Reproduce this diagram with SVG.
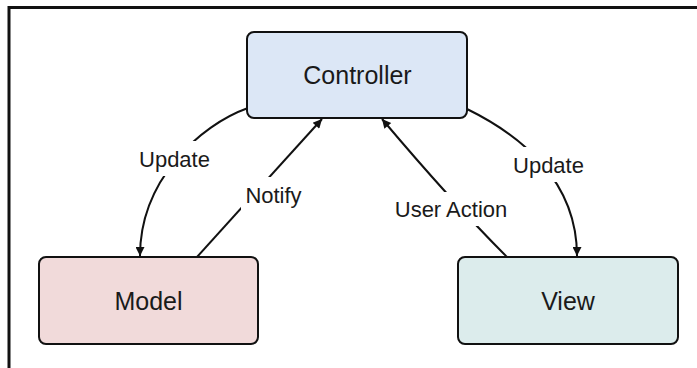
<svg xmlns="http://www.w3.org/2000/svg" width="697" height="368" viewBox="0 0 697 368">
  <defs>
    <marker id="arrow" viewBox="0 0 10 10" refX="10" refY="5" markerWidth="11" markerHeight="9" markerUnits="userSpaceOnUse" orient="auto">
      <path d="M0,0 L10,5 L0,10 z" fill="#111"/>
    </marker>
    <style>
      .node rect { stroke: #111; stroke-width: 2; }
      .node text { font-family: "Liberation Sans", Arial, sans-serif; font-size: 25px; fill: #1a1a1a; text-anchor: middle; }
      .edge { fill: none; stroke: #111; stroke-width: 2; }
      .label rect { fill: #ffffff; stroke: none; }
      .label text { font-family: "Liberation Sans", Arial, sans-serif; font-size: 22px; fill: #1a1a1a; text-anchor: middle; }
    </style>
  </defs>
  <rect x="0" y="0" width="697" height="368" fill="#ffffff"/>
  <path d="M9,368 V7.5 H697" fill="none" stroke="#111" stroke-width="3"/>

  <g id="connectors">
    <path class="edge" d="M248,108 C200,125 140,180 140,256" marker-end="url(#arrow)"/>
    <path class="edge" d="M197,257 L322,119" marker-end="url(#arrow)"/>
    <path class="edge" d="M507,257 Q452,202 382,119" marker-end="url(#arrow)"/>
    <path class="edge" d="M467,109 C520,135 577,180 577,256" marker-end="url(#arrow)"/>
  </g>

  <g id="labels">
    <g class="label" id="label-update-left">
      <rect x="134" y="141" width="81" height="35"/>
      <text x="174.5" y="167">Update</text>
    </g>
    <g class="label" id="label-notify">
      <rect x="241" y="177" width="66" height="35"/>
      <text x="273.5" y="203">Notify</text>
    </g>
    <g class="label" id="label-user-action">
      <rect x="389" y="192" width="124" height="34"/>
      <text x="451" y="217">User Action</text>
    </g>
    <g class="label" id="label-update-right">
      <rect x="508" y="147" width="81" height="35"/>
      <text x="548.5" y="173">Update</text>
    </g>
  </g>

  <g class="node" id="controller">
    <rect x="247" y="32" width="220" height="86" rx="7" fill="#dce7f6"/>
    <text x="357.5" y="84">Controller</text>
  </g>
  <g class="node" id="model">
    <rect x="39" y="257" width="219" height="87" rx="7" fill="#f1dada"/>
    <text x="148.5" y="310">Model</text>
  </g>
  <g class="node" id="view">
    <rect x="458" y="257" width="220" height="87" rx="7" fill="#dcecec"/>
    <text x="568" y="310">View</text>
  </g>
</svg>
